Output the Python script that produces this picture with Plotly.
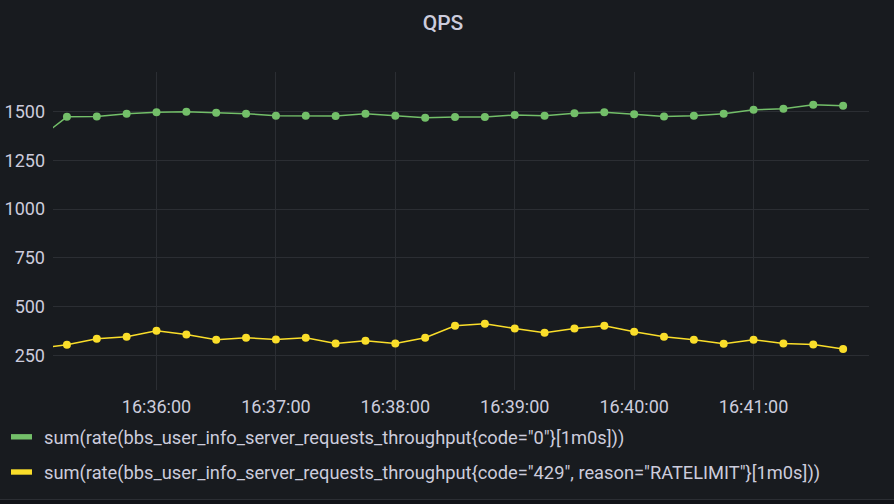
import plotly.graph_objects as go

# ---- data ----
times = [
    "2023-01-01 16:35:00", "2023-01-01 16:35:15", "2023-01-01 16:35:30", "2023-01-01 16:35:45",
    "2023-01-01 16:36:00", "2023-01-01 16:36:15", "2023-01-01 16:36:30", "2023-01-01 16:36:45",
    "2023-01-01 16:37:00", "2023-01-01 16:37:15", "2023-01-01 16:37:30", "2023-01-01 16:37:45",
    "2023-01-01 16:38:00", "2023-01-01 16:38:15", "2023-01-01 16:38:30", "2023-01-01 16:38:45",
    "2023-01-01 16:39:00", "2023-01-01 16:39:15", "2023-01-01 16:39:30", "2023-01-01 16:39:45",
    "2023-01-01 16:40:00", "2023-01-01 16:40:15", "2023-01-01 16:40:30", "2023-01-01 16:40:45",
    "2023-01-01 16:41:00", "2023-01-01 16:41:15", "2023-01-01 16:41:30", "2023-01-01 16:41:45",
]
ok_qps = [1355, 1474, 1476, 1490, 1497, 1500, 1495, 1490,
          1480, 1479, 1478, 1490, 1479, 1469, 1473, 1473,
          1483, 1479, 1492, 1497, 1487, 1476, 1480, 1490,
          1510, 1515, 1536, 1531]
limited_qps = [284, 304, 335, 345, 376, 357, 330, 340,
               331, 340, 311, 325, 311, 340, 402, 412,
               388, 366, 388, 402, 371, 345, 330, 309,
               330, 311, 306, 283]
series_names = [
    'sum(rate(bbs_user_info_server_requests_throughput{code="0"}[1m0s]))',
    'sum(rate(bbs_user_info_server_requests_throughput{code="429", reason="RATELIMIT"}[1m0s]))',
]
series_colors = ["#73BF69", "#FADE2A"]
x_range = ["2023-01-01 16:35:08", "2023-01-01 16:41:58"]
y_range = [72, 1704]

W, H = 894, 504
ML, MR, MT, MB = 53, 25, 72, 114
PW, PH = W - ML - MR, H - MT - MB
BG = "#181b1f"
TXT = "#ccccdc"
GRID = "#2b2e33"


def px_x(p):
    return (p - ML) / PW


def px_y(p):
    return (H - MB - p) / PH


fig = go.Figure()
for vals, name, col in zip([ok_qps, limited_qps], series_names, series_colors):
    fig.add_trace(go.Scatter(
        x=times, y=vals, name=name, mode="lines+markers",
        line=dict(color=col, width=1.5),
        marker=dict(color=col, size=8),
        showlegend=False,
    ))

# manual legend (swatch + text)
rows = [436.8, 472]
for name, col, yc in zip(series_names, series_colors, rows):
    fig.add_shape(type="rect", xref="paper", yref="paper",
                  x0=px_x(11), x1=px_x(32), y0=px_y(yc + 2.7), y1=px_y(yc - 2.7),
                  fillcolor=col, line=dict(width=0), layer="above")
    fig.add_annotation(xref="paper", yref="paper", x=px_x(42), y=px_y(yc + 1),
                       xanchor="left", yanchor="middle", showarrow=False, text=name,
                       font=dict(family="Roboto", size=18.3, color=TXT))

# panel bottom edge
fig.add_shape(type="rect", xref="paper", yref="paper",
              x0=px_x(0), x1=px_x(W), y0=px_y(504), y1=px_y(499.5),
              fillcolor="#111217", line=dict(width=0), layer="above")
fig.add_shape(type="line", xref="paper", yref="paper",
              x0=px_x(0), x1=px_x(W), y0=px_y(499.5), y1=px_y(499.5),
              line=dict(color="#2b2e33", width=1), layer="above")

fig.update_layout(
    width=W, height=H,
    margin=dict(l=ML, r=MR, t=MT, b=MB, autoexpand=False),
    paper_bgcolor=BG, plot_bgcolor=BG,
    font=dict(family="Roboto", color=TXT),
    title=dict(text="QPS", x=443 / W, xref="container", xanchor="center",
               y=1 - 23 / H, yref="container", yanchor="middle",
               font=dict(family="Roboto", size=21, color=TXT, weight=500)),
    xaxis=dict(type="date", range=x_range, tickformat="%H:%M:%S",
               tick0="2023-01-01 16:36:00", dtick=60000,
               showgrid=True, gridcolor=GRID, gridwidth=1,
               zeroline=False, showline=False, ticks="", automargin=False,
               ticklabelstandoff=4,
               tickfont=dict(family="Roboto", size=18, color=TXT)),
    yaxis=dict(range=y_range, tick0=0, dtick=250,
               showgrid=True, gridcolor=GRID, gridwidth=1,
               zeroline=False, showline=False, ticks="", automargin=False,
               ticklabelstandoff=7,
               tickfont=dict(family="Roboto", size=18, color=TXT)),
    showlegend=False,
)

fig.write_html("out.html")
